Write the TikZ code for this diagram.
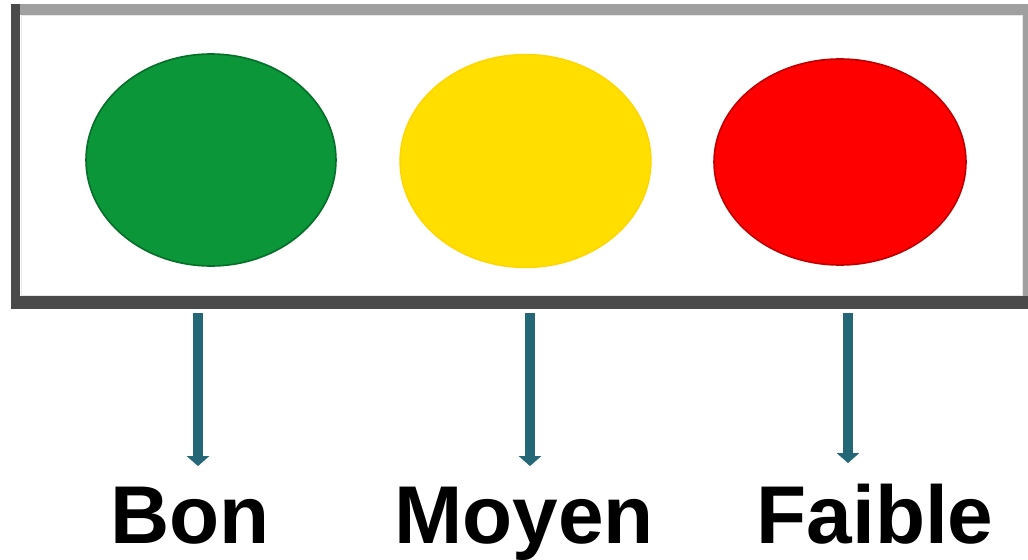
\documentclass[tikz,border=0pt]{standalone}
\usepackage{fontspec}
\setmainfont{Liberation Sans}
\usetikzlibrary{arrows.meta}

\definecolor{frameDark}{RGB}{74,74,74}
\definecolor{frameLight}{RGB}{160,160,160}
\definecolor{bonGreen}{RGB}{10,150,57}
\definecolor{bonEdge}{RGB}{5,110,40}
\definecolor{moyenYellow}{RGB}{255,222,0}
\definecolor{faibleRed}{RGB}{255,0,0}
\definecolor{faibleEdge}{RGB}{190,0,0}
\definecolor{arrowTeal}{RGB}{36,104,120}

\tikzset{every picture/.style={line width=0.75pt}}
\tikzset{
  level label/.style={inner sep=0pt, anchor=base, font=\fontsize{61.5}{70}\selectfont\bfseries},
  level arrow/.style={draw=arrowTeal, line width=7.5pt, -{Triangle[width=16.5pt,length=7.5pt]}, arrowTeal}
}

\begin{document}
\begin{tikzpicture}[x=0.75pt,y=0.75pt,yscale=-1,xscale=1]
	\useasboundingbox (0,0) rectangle (1028,560);

	%Shape: Rectangle [id:frame]
	\fill [white] (11,4) rectangle (1028,309) ;
	\fill [frameLight] (11,4) rectangle (1028,15) ;
	\fill [frameLight] (1023,4) rectangle (1028,309) ;
	\fill [frameDark] (11,4) rectangle (20,309) ;
	\fill [frameDark] (11,296) rectangle (1028,309) ;
	\draw [frameLight!25, line width=0.75pt] (21,16) rectangle (1022,295) ;

	%Shape: Ellipse [id:green]
	\draw [draw=bonEdge, fill=bonGreen, line width=1.2] (211,160) ellipse (125 and 106) ;
	%Shape: Ellipse [id:yellow]
	\draw [draw=moyenYellow!90!orange, fill=moyenYellow, line width=1] (525.5,161) ellipse (125.5 and 106.5) ;
	%Shape: Ellipse [id:red]
	\draw [draw=faibleEdge, fill=faibleRed, line width=1.2] (840,162) ellipse (126 and 103) ;

	% Text Node
	\node [level label] (bon) at (190,543) {Bon};
	% Text Node
	\node [level label] (moyen) at (524,543) {Moyen};
	% Text Node
	\node [level label] (faible) at (875,543) {Faible};

	\coordinate (bon-top) at (198,313) ;
	\coordinate (moyen-top) at (530,313) ;
	\coordinate (faible-top) at (848,313) ;

	%Straight Lines [id:arrows]
	\draw [level arrow, shorten >=15] (bon-top) -- (bon-top |- bon.north) ;
	\draw [level arrow, shorten >=15] (moyen-top) -- (moyen-top |- moyen.north) ;
	\draw [level arrow, shorten >=15] (faible-top) -- (faible-top |- faible.north) ;

\end{tikzpicture}
\end{document}
